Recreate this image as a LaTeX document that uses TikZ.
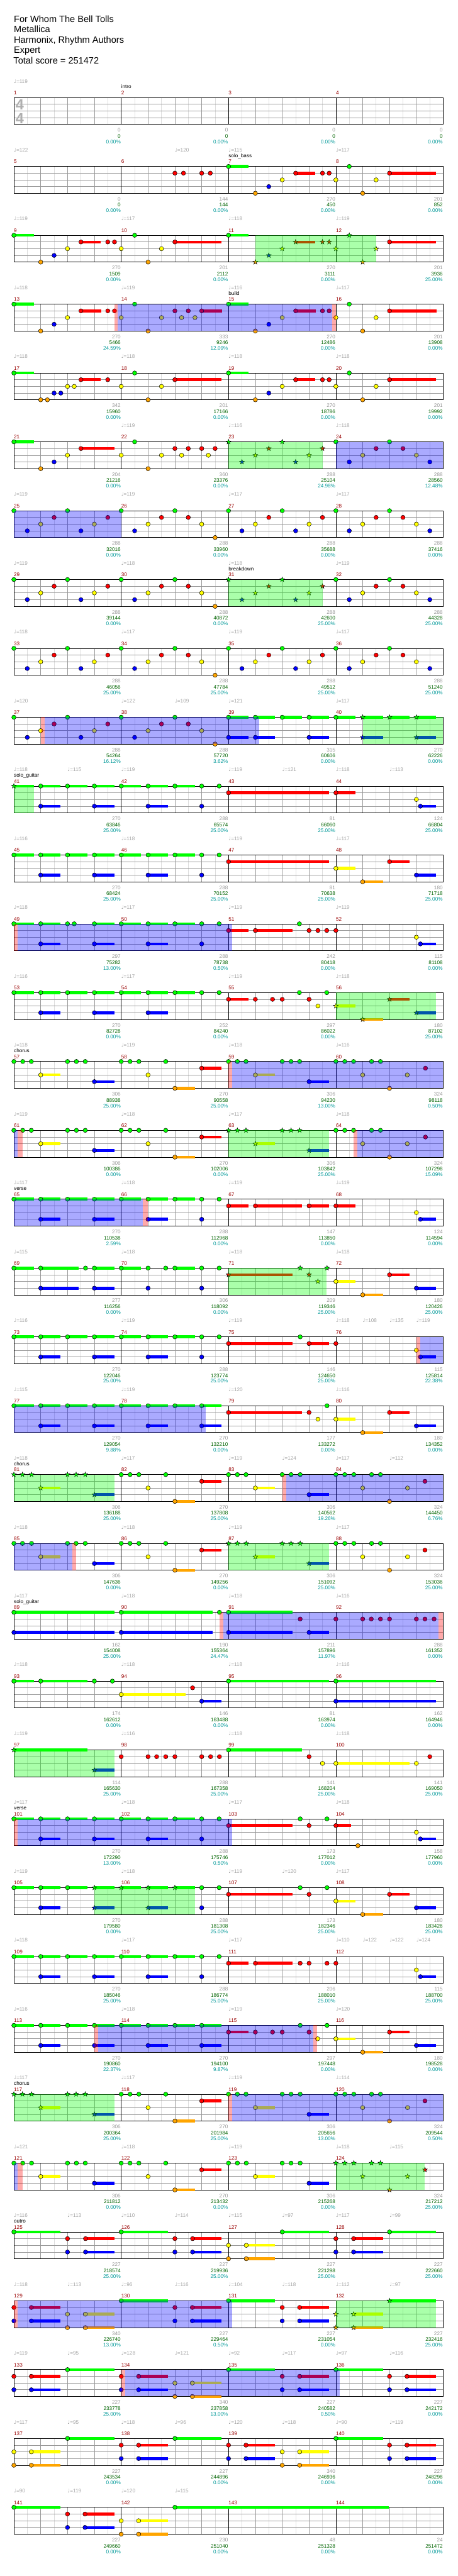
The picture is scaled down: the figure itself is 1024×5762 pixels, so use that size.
\documentclass[tikz,border=0pt]{standalone}
\usepackage{fontspec}
\setmainfont{Liberation Sans}
\newfontfamily\symf{DejaVu Sans}
\definecolor{cG}{RGB}{0,255,0}
\definecolor{cR}{RGB}{255,0,0}
\definecolor{cY}{RGB}{255,255,0}
\definecolor{cB}{RGB}{0,0,255}
\definecolor{cO}{RGB}{255,165,0}
\colorlet{lane0}{cG}\colorlet{lane1}{cR}\colorlet{lane2}{cY}\colorlet{lane3}{cB}\colorlet{lane4}{cO}
\definecolor{mred}{RGB}{153,0,0}
\definecolor{sgray}{RGB}{153,153,153}
\definecolor{sgreen}{RGB}{0,100,0}
\definecolor{steal}{RGB}{0,153,153}
\definecolor{tgray}{RGB}{165,165,165}
\definecolor{hgray}{RGB}{221,221,221}
\definecolor{bgray}{RGB}{153,153,153}
\definecolor{tsgray}{RGB}{175,175,175}
\tikzset{
 hgrid/.style={draw=hgray,line width=1pt},
 bgrid/.style={draw=bgray,line width=1pt},
 mline/.style={draw=black,line width=1pt},
 sus/.style={draw=#1,line width=6.4pt},
 note/.style={draw=black,fill=#1,line width=0.7pt},
 spg/.style={fill=cG,fill opacity=0.333},
 spb/.style={fill=cB,fill opacity=0.333},
 spp/.style={fill=cR,fill opacity=0.333},
 smalltxt/.style={font=\fontsize{11.5}{13}\selectfont,inner sep=0pt},
 mnum/.style={smalltxt,text=mred,anchor=base west},
 tempo/.style={smalltxt,text=tgray,anchor=base west},
 sect/.style={smalltxt,text=black,anchor=base west},
 lab/.style={smalltxt,anchor=base east},
 title/.style={font=\fontsize{20.5}{24}\selectfont,inner sep=0pt,anchor=base west},
}
\newcommand\ifnonempty[2]{\if\relax\detokenize{#1}\relax\else#2\fi}
\newcommand\starat[3]{\draw[note=#3] (#1,#2) +(90:5.6pt) -- +(126:2.3pt) -- +(162:5.6pt) -- +(198:2.3pt) -- +(234:5.6pt) -- +(270:2.3pt) -- +(306:5.6pt) -- +(342:2.3pt) -- +(18:5.6pt) -- +(54:2.3pt) -- cycle;}
\newcommand\R[9]{%
\pgfmathsetmacro\T{218.3+154*(#1-1)}%
\pgfmathtruncatemacro\Mz{4*#1-4}%
\begin{scope}[xshift=31pt,yshift={-\T pt},x=60pt,y=-15pt]
\foreach \k in {0.5,1.5,...,15.5} \draw[hgrid] (\k,0)--(\k,4);
\foreach \k in {1,2,3,5,6,7,9,10,11,13,14,15} \draw[bgrid] (\k,0)--(\k,4);
\foreach \k in {1,2,3} \draw[bgrid] (0,\k)--(16,\k);
\foreach \k in {4,8,12} \draw[mline] (\k,0)--(\k,4);
\draw[mline] (0,0) rectangle (16,4);
\ifnonempty{#2}{\foreach \pb/\pl/\pe in {#2}{\ifdim\pe pt>\pb pt\relax\draw[sus=lane\pl] (\pb,\pl)--(\pe,\pl);\fi}}%
\ifnonempty{#3}{\foreach \pb/\pl/\pe in {#3}{\ifdim\pe pt>\pb pt\relax\draw[sus=lane\pl] (\pb,\pl)--(\pe,\pl);\fi}}%
\ifnonempty{#2}{\foreach \pb/\pl/\pe in {#2}{\draw[note=lane\pl] (\pb,\pl) circle[radius=4.8pt];}}%
\ifnonempty{#3}{\foreach \pb/\pl/\pe in {#3}{\starat{\pb}{\pl}{lane\pl}}}%
\ifnonempty{#4}{\foreach \ga/\gb in {#4}{\fill[spg] (\ga,0) rectangle (\gb,4);}}%
\ifnonempty{#5}{\foreach \ga/\gb in {#5}{\fill[spb] (\ga,0) rectangle (\gb,4);}}%
\ifnonempty{#6}{\foreach \ga/\gb in {#6}{\fill[spp] (\ga,0) rectangle (\gb,4);}}%
\foreach \k in {1,2,3,4}{\pgfmathtruncatemacro\mm{\Mz+\k}\node[mnum] at ({4*\k-4},-0.44) {\mm};}
\ifnonempty{#7}{\foreach \ta/\tb in {#7}{\node[tempo] at (\ta,-2.17) {{\symf ♩}=\tb};}}%
\ifnonempty{#8}{\foreach \ta/\tb in {#8}{\node[sect] at (\ta,-1.35) {\tb};}}%
\foreach \qa/\qb/\qc [count=\k] in {#9}{%
  \node[lab,text=sgray] at ({4*\k-0.017},5.13) {\qa};
  \node[lab,text=sgreen] at ({4*\k-0.017},6.03) {\qb};
  \node[lab,text=steal] at ({4*\k-0.017},6.87) {\qc\%};}
\end{scope}}
\begin{document}
\begin{tikzpicture}[x=1pt,y=-1pt]
\useasboundingbox (0,0) rectangle (1024,5762);
\fill[white] (0,0) rectangle (1024,5762);
\node[title] (t1) at (31,49.3) {For Whom The Bell Tolls};
\node[title] (t2) at (31,72.6) {Metallica};
\node[title] (t3) at (31,95.9) {Harmonix, Rhythm Authors};
\node[title] (t4) at (31,119.2) {Expert};
\node[title] (t5) at (30,142.5) {Total score = 251472};
% row 1
\R{1}{}{}{}{}{}{0/119}{4/intro}{0/0/0.00,0/0/0.00,0/0/0.00,0/0/0.00}
\node[text=tsgray,font=\fontsize{33}{33}\bfseries\selectfont,inner sep=0pt] (ts1) at (44,234.5) {4};
\node[text=tsgray,font=\fontsize{33}{33}\bfseries\selectfont,inner sep=0pt] (ts2) at (44,264.5) {4};
% row 2
\R{2}{8/0/8.74,12.5/0/0,6/1/0,6.32/1/0,7/1/0,7.32/1/0,10.5/1/11.24,11.5/1/0,11.75/1/0,14/1/15.74,10/2/0,12/2/0,13.5/2/0,9.5/3/0,9/4/0,13/4/0}{}{}{}{}{0/122,6/120,8/115,12/117}{8/solo\_bass}{0/0/0.00,144/144/0.00,270/450/0.00,201/852/0.00}
% row 3
\R{3}{0/0/0.74,4.5/0/0,8/0/8.74,2.5/1/3.24,3.5/1/0,3.75/1/0,6/1/7.74,14/1/15.74,2/2/0,4/2/0,5.5/2/0,1.5/3/0,1/4/0,5/4/0}{12.5/0/0,10.5/1/11.24,11.5/1/0,11.75/1/0,10/2/0,12/2/0,13.5/2/0,9.5/3/0,9/4/0,13/4/0}{9/13.5}{}{}{0/119,4/117,8/118,12/119}{}{270/1509/0.00,201/2112/0.00,270/3111/0.00,201/3936/25.00}
% row 4
\R{4}{0/0/0.75,2.5/1/3.25,3.5/1/0,3.75/1/0,2/2/0,1.5/3/0,1/4/0,4.5/0/0,4/2/0,5/4/0,6/1/0,6.5/1/0,7/1/7.75,5.5/2/0,6.25/2/0,6.75/2/0,8/0/8.75,10.5/1/11.25,11.5/1/0,11.75/1/0,10/2/0,12/2/0,9.5/3/0,9/4/0,12.5/0/0,14/1/15.75,13.5/2/0,13/4/0}{}{}{3.87/11.87}{3.75/3.87,11.87/12}{0/118,4/119,8/116,12/117}{8/build}{270/5466/24.59,333/9246/12.09,270/12486/0.00,201/13908/0.00}
% row 5
\R{5}{0/0/0.74,4.5/0/0,8/0/8.74,12.5/0/0,2.5/1/3.24,3.5/1/0,6/1/7.74,10.5/1/11.24,11.5/1/0,11.75/1/0,14/1/15.74,2/2/0,2.25/2/0,4/2/0,5.5/2/0,10/2/0,12/2/0,13.5/2/0,1.5/3/0,1.75/3/0,9.5/3/0,1/4/0,1.25/4/0,5/4/0,9/4/0,13/4/0}{}{}{}{}{0/118,4/118,8/118,12/118}{}{342/15960/0.00,201/17166/0.00,270/18786/0.00,201/19992/0.00}
% row 6
\R{6}{0/0/0.74,4.5/0/0,12/0/0,14/0/0,2.5/1/3.74,6/1/0,6.5/1/0,7/1/0,7.5/1/0,13.5/1/0,14.5/1/0,2/2/0,4/2/0,5.5/2/0,6.25/2/0,7.25/2/0,13/2/0,15/2/0,1.5/3/0,12.5/3/0,15.5/3/0,1/4/0,5/4/0}{8/0/0,10/0/0,9.5/1/0,11.5/1/0,9/2/0,11/2/0,8.5/3/0,10.5/3/0}{8/11.5}{12/16}{}{4/119,8/116,12/118}{}{204/21216/0.00,360/23376/0.00,288/25104/24.98,288/28560/12.48}
% row 7
\R{7}{0/0/0,2/0/0,4/0/0,6/0/0,8/0/0,10/0/0,12/0/0,14/0/0,1.5/1/0,3.5/1/0,5.5/1/0,6.5/1/0,9.5/1/0,11.5/1/0,13.5/1/0,14.5/1/0,1/2/0,3/2/0,5/2/0,7/2/0,9/2/0,11/2/0,13/2/0,15/2/0,0.5/3/0,2.5/3/0,4.5/3/0,8.5/3/0,10.5/3/0,12.5/3/0,15.5/3/0,7.5/4/0}{}{}{0/4}{}{0/119,4/119,8/117,12/117}{}{288/32016/0.00,288/33960/0.00,288/35688/0.00,288/37416/0.00}
% row 8
\R{8}{0/0/0,2/0/0,4/0/0,6/0/0,12/0/0,14/0/0,1.5/1/0,3.5/1/0,5.5/1/0,6.5/1/0,13.5/1/0,14.5/1/0,1/2/0,3/2/0,5/2/0,7/2/0,13/2/0,15/2/0,0.5/3/0,2.5/3/0,4.5/3/0,12.5/3/0,15.5/3/0,7.5/4/0}{8/0/0,10/0/0,9.5/1/0,11.5/1/0,9/2/0,11/2/0,8.5/3/0,10.5/3/0}{8/11.5}{}{}{0/119,4/118,8/118,12/119}{8/breakdown}{288/39144/0.00,288/40872/0.00,288/42600/25.00,288/44328/25.00}
% row 9
\R{9}{0/0/0,2/0/0,4/0/0,6/0/0,8/0/0,10/0/0,12/0/0,14/0/0,1.5/1/0,3.5/1/0,5.5/1/0,6.5/1/0,9.5/1/0,11.5/1/0,13.5/1/0,14.5/1/0,1/2/0,3/2/0,5/2/0,7/2/0,9/2/0,11/2/0,13/2/0,15/2/0,0.5/3/0,2.5/3/0,4.5/3/0,8.5/3/0,10.5/3/0,12.5/3/0,15.5/3/0,7.5/4/0}{}{}{}{}{0/118,4/117,8/119,12/117}{}{288/46056/25.00,288/47784/25.00,288/49512/25.00,288/51240/25.00}
% row 10
\R{10}{0/0/0,2/0/0,4/0/0,6/0/0,8/0/8.74,9/0/9.74,10/0/10.74,11/0/11.74,12/0/12.74,1.5/1/0,3.5/1/0,5.5/1/0,6.5/1/0,1/2/0,3/2/0,5/2/0,7/2/0,0.5/3/0,2.5/3/0,4.5/3/0,8/3/8.74,9/3/9.74,11/3/11.74,7.5/4/0}{13/0/13.75,14/0/14.75,15/0/15.74,13/3/13.75,15/3/15.74}{13/16}{1.14/9.14}{1/1.14}{0/120,4/122,6/109,8/121,12/117}{}{288/54264/16.12,288/57720/3.62,315/60606/0.00,270/62226/0.00}
% row 11
\R{11}{1/0/1.74,2/0/2.74,3/0/3.74,4/0/4.74,5/0/5.74,6/0/6.74,7/0/0,7.65/0/0,8/1/11.74,12/1/12.74,15/2/0,1/3/1.74,3/3/3.74,5/3/5.74,7/3/0,15.15/3/15.74}{0/0/0.74}{0/0.74}{}{}{0/118,2/115,4/119,8/119,10/121,12/118,14/113}{0/solo\_guitar}{270/63846/25.00,288/65574/25.00,81/66060/25.00,124/66804/25.00}
% row 12
\R{12}{0/0/0.74,1/0/1.74,2/0/2.74,3/0/3.74,4/0/4.74,5/0/5.74,6/0/6.74,7/0/0,7.65/0/0,8/1/11.74,14/1/14.75,12/2/12.74,1/3/1.74,3/3/3.74,5/3/5.74,7/3/0,15/3/15.74,13/4/13.75}{}{}{}{}{0/116,4/118,8/119,12/117}{}{270/68424/25.00,288/70152/25.00,81/70638/25.00,180/71718/25.00}
% row 13
\R{13}{0/0/0.74,1/0/1.74,2/0/0,2.25/0/0,3/0/3.74,4/0/4.74,5/0/5.74,6/0/6.74,7/0/0,7.65/0/0,10.64/0/0,8/1/8.74,9/1/10.39,11/1/0,11.33/1/0,11.66/1/0,12/1/0,15/2/0,1/3/1.74,3/3/3.74,5/3/5.74,7/3/0,15.15/3/15.74}{}{}{0.14/8.14}{0/0.14}{0/118,4/117,8/119,12/119}{}{297/75282/13.00,288/78738/0.50,242/80418/0.00,115/81108/0.00}
% row 14
\R{14}{0/0/0.74,1/0/1.74,2/0/2.74,3/0/3.74,4/0/4.74,5/0/5.74,6/0/6.74,7/0/0,7.65/0/0,10.64/0/0,11.66/0/0,8/1/8.74,9/1/0,9.64/1/0,10/1/0,11/1/0,11.33/2/0,1/3/1.74,3/3/3.74,5/3/5.74}{14/1/14.75,12/2/12.74,15/3/15.74,13/4/13.75}{12/15.74}{}{}{0/116,4/117,8/119,12/118}{}{270/82728/0.00,252/84240/0.00,297/86022/0.00,180/87102/25.00}
% row 15
\R{15}{0/0/0,0.33/0/0,0.65/0/0,2/0/0,2.33/0/0,2.66/0/0,4/0/0,4.33/0/0,4.66/0/0,5.66/0/0,8/0/0,8.33/0/0,8.65/0/0,10/0/0,10.33/0/0,10.65/0/0,12/0/0,12.33/0/0,12.66/0/0,13.33/0/0,13.66/0/0,7/1/7.74,15.34/1/0,1/2/1.74,5/2/0,9/2/9.74,13/2/0,14.66/2/0,3/3/3.74,11/3/11.74,6/4/6.75,14/4/0}{}{}{8.14/16}{8/8.14}{0/118,4/119,8/118,12/116}{0/chorus}{306/88938/25.00,270/90558/25.00,306/94230/13.00,324/98118/0.50}
% row 16
\R{16}{0/0/0,0.33/0/0,0.65/0/0,2/0/0,2.33/0/0,2.66/0/0,4/0/0,4.33/0/0,4.66/0/0,5.66/0/0,12/0/0,12.33/0/0,12.66/0/0,13.33/0/0,13.66/0/0,7/1/7.74,15.34/1/0,1/2/1.74,5/2/0,13/2/0,14.66/2/0,3/3/3.74,6/4/6.75,14/4/0}{8/0/0,8.33/0/0,8.65/0/0,10/0/0,10.33/0/0,10.65/0/0,9/2/9.74,11/3/11.74}{8/11.74}{0/0.14,12.8/16}{0.14/0.32,12.66/12.8}{0/119,4/118,8/117,12/118}{}{306/100386/0.00,270/102006/0.00,306/103842/25.00,324/107298/15.09}
% row 17
\R{17}{0/0/0.74,1/0/1.74,2/0/2.74,3/0/3.74,4/0/4.74,5/0/5.74,6/0/6.74,7/0/0,7.65/0/0,8/1/8.74,9/1/10.74,11/1/11.74,12/1/12.74,15/2/0,1/3/1.74,3/3/3.74,5/3/5.74,7/3/0,15.15/3/15.74}{}{}{0/4.81}{4.81/5}{0/117,4/118,8/119,12/119}{0/verse}{270/110538/2.59,288/112968/0.00,147/113850/0.00,124/114594/0.00}
% row 18
\R{18}{0/0/0.74,1/0/2.41,2.67/0/0,3/0/3.74,4/0/4.74,5/0/0,5.66/0/0,6/0/6.74,7/0/0,7.65/0/0,14/1/14.75,12/2/12.74,1/3/2.41,3/3/3.74,5/3/0,7/3/0,15/3/15.74,13/4/13.75}{10.67/0/0,11.67/0/0,8/1/10.39,11/1/0,11.33/2/0}{8/11.66}{}{}{0/115,4/118,8/118,12/118}{}{277/116256/0.00,306/118092/0.00,209/119346/25.00,180/120426/25.00}
% row 19
\R{19}{0/0/0.74,1/0/1.74,2/0/2.74,3/0/3.74,4/0/4.74,5/0/5.74,6/0/6.74,7/0/0,7.65/0/0,10.67/0/0,8/1/10.39,11/1/11.74,12/1/0,15/2/0,1/3/1.74,3/3/3.74,5/3/5.74,7/3/0,15.15/3/15.74}{}{}{15.14/16}{15/15.14}{0/116,4/119,8/119,12/118,13/108,14/135,15/119}{}{270/122046/25.00,288/123774/25.00,146/124650/25.00,115/125814/22.38}
% row 20
\R{20}{0/0/0.74,1/0/1.74,2/0/2.74,3/0/3.74,4/0/4.74,5/0/5.74,6/0/6.74,7/0/7.74,11.67/0/0,8/1/10.74,11/1/0,14/1/14.75,11.33/2/0,12/2/12.74,1/3/1.74,3/3/3.74,5/3/5.74,7/3/7.74,15/3/15.74,13/4/13.75}{}{}{0/7.14}{}{0/115,4/119,8/120,12/116}{}{270/129054/9.88,270/132210/0.00,177/133272/0.00,180/134352/0.00}
% row 21
\R{21}{4/0/0,4.33/0/0,4.66/0/0,5.66/0/0,8/0/0,8.33/0/0,8.65/0/0,10/0/0,10.33/0/0,10.67/0/0,12/0/0,12.33/0/0,12.67/0/0,13.33/0/0,13.66/0/0,7/1/7.74,15.32/1/0,5/2/0,9/2/9.74,13/2/0,14.67/2/0,11/3/11.74,6/4/6.75,14/4/0}{0/0/0,0.32/0/0,0.66/0/0,2/0/0,2.32/0/0,2.66/0/0,1/2/1.74,3/3/3.74}{0/3.74}{10.14/16}{10/10.14}{0/118,4/117,8/119,10/124,12/117,14/112}{0/chorus}{306/136188/25.00,270/137808/25.00,306/140562/19.26,324/144450/6.76}
% row 22
\R{22}{0/0/0,0.32/0/0,0.66/0/0,2/0/0,2.32/0/0,2.66/0/0,4/0/0,4.33/0/0,4.66/0/0,5.66/0/0,12/0/0,12.33/0/0,12.67/0/0,13.33/0/0,13.66/0/0,7/1/7.74,15.32/1/0,1/2/1.74,5/2/0,13/2/0,14.67/2/0,3/3/3.74,6/4/6.75,14/4/0}{8/0/0,8.33/0/0,8.66/0/0,10/0/0,10.33/0/0,10.67/0/0,9/2/9.74,11/3/11.74}{8/11.74}{0/2.17}{2.17/2.31}{0/118,4/118,8/119,12/117}{}{306/147636/0.00,270/149256/0.00,306/151092/25.00,324/153036/25.00}
% row 23
\R{23}{0/0/3.74,4/0/7.41,7.66/0/0,8/0/10.39,10.67/1/0,12/1/0,13/1/0,13.32/1/0,13.66/1/0,14/1/0,15/1/0,15.32/1/0,15.66/1/0,0/3/3.74,4/3/7.41,8/3/10.39,11/3/11.74}{}{}{7.81/15.83}{7.66/7.81,15.83/16}{0/117,4/118,8/118,12/116}{0/solo\_guitar}{162/154008/25.00,190/155364/24.47,211/157896/11.97,288/161352/0.00}
% row 24
\R{24}{0/0/0.74,1/0/2.74,3/0/0,3.67/0/0,8/0/11.74,12/0/15.74,6.66/1/0,4/2/6.41,7/3/7.74,12/3/15.74}{}{}{}{}{0/118,4/118,8/118,12/116}{}{174/162612/0.00,146/163488/0.00,81/163974/0.00,162/164946/0.00}
% row 25
\R{25}{8/0/10.74,4/1/0,5/1/0,5.32/1/0,5.66/1/0,6/1/0,7/1/0,7.33/1/0,7.66/1/0,11/1/0,15.5/1/0,11.5/2/0,12/2/14.75,15/2/0}{0/0/2.74,3/3/3.74}{0/3.74}{}{}{0/119,4/116,8/118,12/118}{}{114/165630/25.00,288/167358/25.00,141/168204/25.00,141/169050/25.00}
% row 26
\R{26}{0/0/0.74,1/0/1.74,2/0/2.74,3/0/3.74,4/0/4.74,5/0/5.74,6/0/6.74,7/0/0,7.65/0/0,10.67/0/0,11.67/0/0,8/1/10.39,11/1/0,12/1/12.56,15/2/0,1/3/1.74,3/3/3.74,5/3/5.74,7/3/0,15.15/3/15.74,12.82/4/0}{}{}{0.14/8.14}{0/0.14}{0/117,4/118,8/117,12/118}{0/verse}{270/172290/13.00,288/175746/0.50,173/177012/0.00,158/177960/0.00}
% row 27
\R{27}{0/0/0.74,1/0/1.74,2/0/2.74,7/0/0,7.65/0/0,10.67/0/0,11.67/0/0,8/1/10.39,11/1/0,14/1/14.75,12/2/12.74,1/3/1.74,7/3/0,15/3/15.74,13/4/13.75}{3/0/3.74,4/0/4.74,5/0/5.74,6/0/6.74,3/3/3.74,5/3/5.74}{3/6.75}{}{}{0/119,4/118,8/119,10/120,12/117}{}{270/179580/0.00,288/181308/25.00,173/182346/25.00,180/183426/25.00}
% row 28
\R{28}{0/0/0.74,1/0/1.74,2/0/2.74,3/0/3.74,4/0/4.74,5/0/5.74,6/0/6.74,7/0/0,7.65/0/0,8/1/8.74,9/1/10.39,10.67/1/0,11/1/0,11.67/1/0,12/1/0,15/2/0,1/3/1.74,3/3/3.74,5/3/5.74,7/3/0,15.15/3/15.74}{}{}{}{}{0/118,4/117,8/117,12/110,13/122,14/122,15/124}{}{270/185046/25.00,288/186774/25.00,206/188010/25.00,115/188700/25.00}
% row 29
\R{29}{0/0/0.74,1/0/1.74,2/0/2.74,3/0/3.74,4/0/4.74,5/0/5.74,6/0/6.74,7/0/7.74,10.67/0/0,11.67/0/0,8/1/8.74,9/1/0,9.64/1/0,10/1/0,11/1/0,14/1/14.75,11.32/2/0,12/2/12.74,1/3/1.74,3/3/3.74,5/3/5.74,7/3/7.74,15/3/15.74,13/4/13.75}{}{}{3.15/11.15}{3/3.15,11.15/11.31}{0/116,4/118,8/119,12/120}{}{270/190860/22.37,270/194100/9.87,297/197448/0.00,180/198528/0.00}
% row 30
\R{30}{4/0/0,4.33/0/0,4.66/0/0,5.66/0/0,8/0/0,8.33/0/0,8.65/0/0,10/0/0,10.33/0/0,10.67/0/0,12/0/0,12.33/0/0,12.67/0/0,13.33/0/0,13.66/0/0,7/1/7.74,15.32/1/0,5/2/0,9/2/9.74,13/2/0,14.67/2/0,11/3/11.74,6/4/6.75,14/4/0}{0/0/0,0.32/0/0,0.66/0/0,2/0/0,2.32/0/0,2.66/0/0,1/2/1.74,3/3/3.74}{0/3.74}{8.14/16}{8/8.14}{0/117,4/117,8/119,12/114}{0/chorus}{306/200364/25.00,270/201984/25.00,306/205656/13.00,324/209544/0.50}
% row 31
\R{31}{0/0/0,0.33/0/0,0.66/0/0,2/0/0,2.33/0/0,2.66/0/0,4/0/0,4.33/0/0,4.66/0/0,5.66/0/0,8/0/0,8.33/0/0,8.66/0/0,10/0/0,10.33/0/0,10.67/0/0,7/1/7.74,1/2/1.74,5/2/0,9/2/9.74,3/3/3.74,11/3/11.74,6/4/6.75}{12/0/0,12.33/0/0,12.67/0/0,13.33/0/0,13.66/0/0,15.32/1/0,13/2/0,14.67/2/0,14/4/0}{12/15.32}{0/0.14}{0.14/0.32}{0/121,4/118,8/119,12/118,14/115}{}{306/211812/0.00,270/213432/0.00,306/215268/0.00,324/217212/25.00}
% row 32
\R{32}{0/0/1.74,4/0/5.74,10/0/11.74,14/0/15.74,2/1/0,2.67/1/3.74,6/1/0,6.66/1/7.74,12/1/0,12.66/1/13.75,8/2/0,8.66/2/9.74,2/3/0,2.67/3/3.74,6/3/0,6.66/3/7.74,12/3/0,12.66/3/13.75,8/4/0,8.66/4/9.74}{}{}{}{}{0/116,2/113,4/110,6/114,8/115,10/97,12/117,14/99}{0/outro}{227/218574/25.00,227/219936/25.00,227/221298/25.00,227/222660/25.00}
% row 33
\R{33}{4/0/5.74,8/0/9.74,0/1/0,0.65/1/1.74,6/1/0,6.65/1/7.74,10/1/0,10.65/1/11.74,2/2/0,2.66/2/3.74,0/3/0,0.65/3/1.74,6/3/0,6.65/3/7.74,10/3/0,10.65/3/11.74,2/4/0,2.66/4/3.74}{14/0/15.74,12/2/0,12.66/2/13.75,12/4/0,12.66/4/13.75}{12/15.74}{0.14/8.14}{0/0.14}{0/118,2/113,4/96,6/116,8/104,10/118,12/112,14/97}{}{340/226740/13.00,227/229464/0.50,227/231054/0.00,227/232416/25.00}
% row 34
\R{34}{2/0/3.74,8/0/9.74,12/0/13.75,0/1/0,0.65/1/1.74,4/1/0,4.65/1/5.74,10/1/0,10.65/1/11.74,14/1/0,14.65/1/15.74,6/2/0,6.65/2/7.74,0/3/0,0.65/3/1.74,4/3/0,4.65/3/5.74,10/3/0,10.65/3/11.74,14/3/0,14.65/3/15.74,6/4/0,6.65/4/7.74}{}{}{4.14/12.14}{4/4.14}{0/119,2/95,4/128,6/121,8/92,10/117,12/97,14/116}{}{227/233778/25.00,340/237858/13.00,227/240582/0.50,227/242172/0.00}
% row 35
\R{35}{2/0/3.74,6/0/7.74,12/0/13.75,4/1/0,4.65/1/5.74,8/1/0,8.65/1/9.74,14/1/0,14.65/1/15.74,0/2/0,0.65/2/1.74,10/2/0,10.65/2/11.74,4/3/0,4.65/3/5.74,8/3/0,8.65/3/9.74,14/3/0,14.65/3/15.74,0/4/0,0.65/4/1.74,10/4/0,10.65/4/11.74}{}{}{}{}{0/117,2/95,4/118,6/96,8/120,10/118,12/90,14/119}{}{227/243534/0.00,227/244896/0.00,340/246936/0.00,227/248298/0.00}
% row 36
\R{36}{0/0/1.74,6/0/13.98,2/1/0,2.65/1/3.74,4/2/0,4.65/2/5.74,2/3/0,2.65/3/3.74,4/4/0,4.65/4/5.74}{}{}{}{}{0/90,2/119,4/120,6/115}{}{227/249660/0.00,230/251040/0.00,48/251328/0.00,24/251472/0.00}
\end{tikzpicture}
\end{document}
